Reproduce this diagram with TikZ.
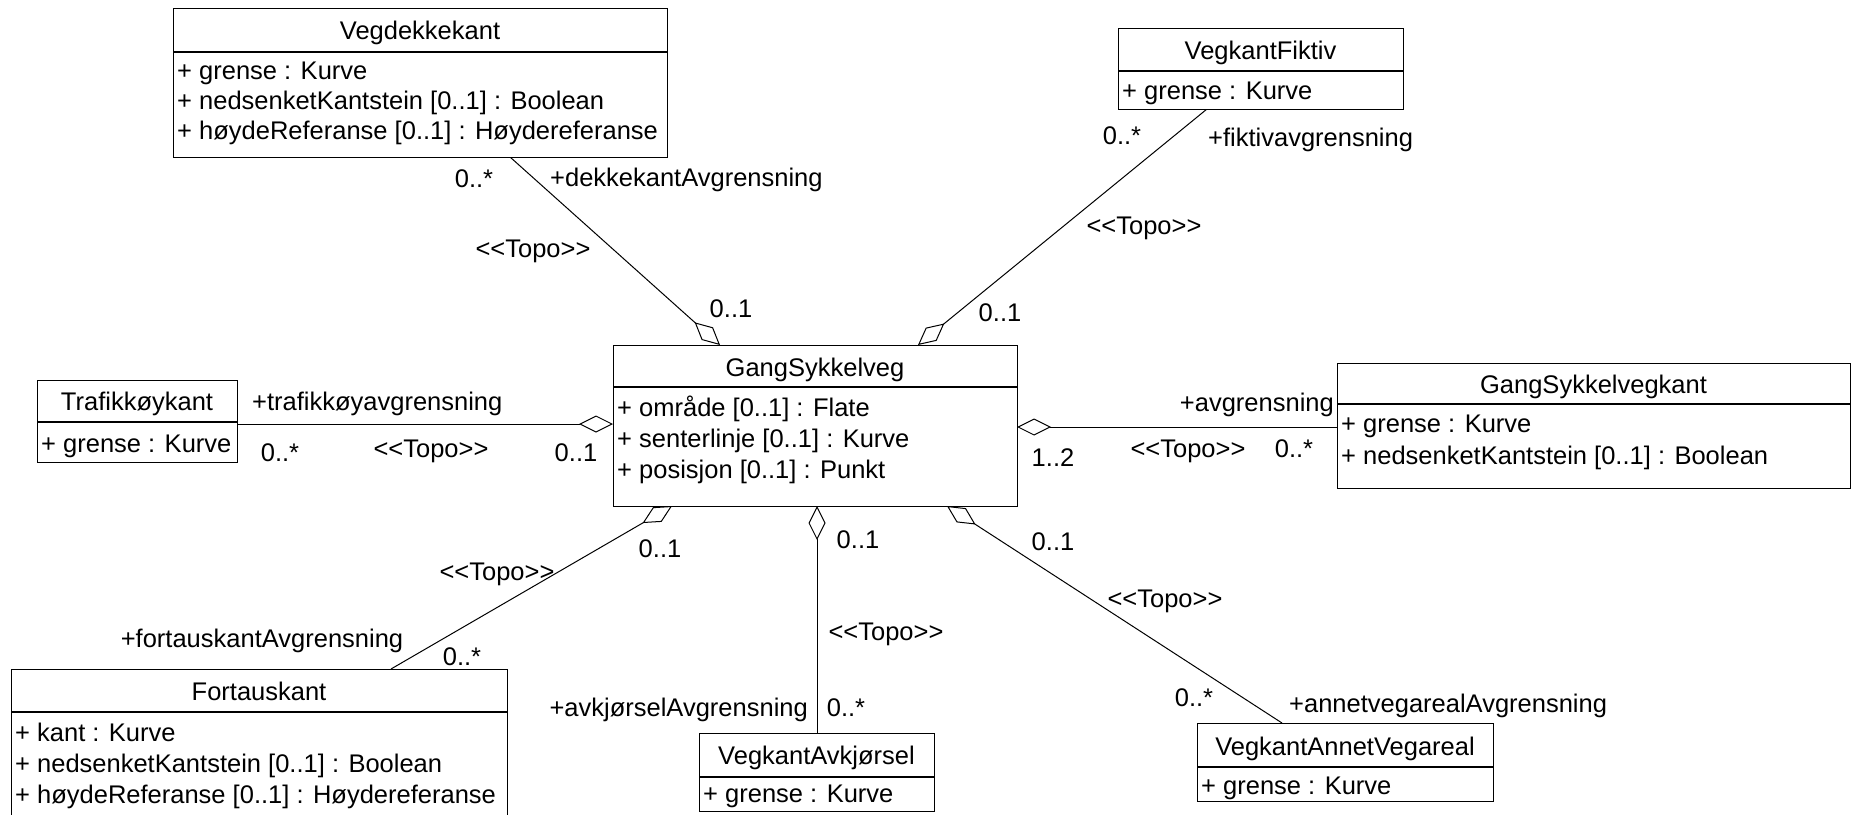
\documentclass[tikz,border=0pt]{standalone}
\usepackage{fontspec}
\setmainfont{Liberation Sans}[Ligatures=TeXOff]
\usetikzlibrary{arrows.meta}
\begin{document}
\begin{tikzpicture}[x=1pt,y=-1pt,
  cls/.style={draw, line width=1.2pt, fill=white, inner sep=0pt, anchor=north west},
  sepl/.style={line width=1.1pt},
  txt/.style={font=\fontsize{25.5pt}{31pt}\selectfont, inner sep=0pt, text height=18.4pt, text depth=5.4pt, yshift=-2.5pt},
  attr/.style={txt, anchor=west},
  assoc/.style={line width=1pt, -{Diamond[open, length=34pt, width=17pt]}}]
\useasboundingbox (0,0) rectangle (1852,814);
\clip (0,0) rectangle (1852,814);

% connector end points
\coordinate (vd-a) at (510,157);  \coordinate (gs-a) at (720,345);
\coordinate (vf-a) at (1207,109); \coordinate (gs-b) at (918,345);
\coordinate (tk-a) at (237,424);  \coordinate (gs-c) at (613,424);
\coordinate (gk-a) at (1337,427); \coordinate (gs-d) at (1017,427);
\coordinate (fk-a) at (391,669);  \coordinate (gs-e) at (672,506);
\coordinate (va-a) at (817,733);  \coordinate (gs-f) at (817,506);
\coordinate (vv-a) at (1282,723); \coordinate (gs-g) at (947,506);

% connectors
\draw[assoc] (vd-a) -- (gs-a);
\draw[assoc] (vf-a) -- (gs-b);
\draw[assoc] (tk-a) -- (gs-c);
\draw[assoc] (gk-a) -- (gs-d);
\draw[assoc] (fk-a) -- (gs-e);
\draw[assoc] (va-a) -- (gs-f);
\draw[assoc] (vv-a) -- (gs-g);

% Vegdekkekant
\node[cls, minimum width=494pt, minimum height=149pt] (vd) at (173,8) {};
\draw[sepl] ([yshift=-44pt]vd.north west) -- ([yshift=-44pt]vd.north east);
\node[txt] (vd-t) at (420,30) {Vegdekkekant};
\node[attr] (vd-1) at (177,70) {+ grense : Kurve};
\node[attr] (vd-2) at (177,100) {+ nedsenketKantstein [0..1] : Boolean};
\node[attr] (vd-3) at (177,130) {+ høydeReferanse [0..1] : Høydereferanse};

% VegkantFiktiv
\node[cls, minimum width=285pt, minimum height=81pt] (vf) at (1118,28) {};
\draw[sepl] ([yshift=-43pt]vf.north west) -- ([yshift=-43pt]vf.north east);
\node[txt] (vf-t) at (1260.5,50) {VegkantFiktiv};
\node[attr] (vf-1) at (1122,90) {+ grense : Kurve};

% Trafikkøykant
\node[cls, minimum width=200pt, minimum height=82pt] (tk) at (37,380) {};
\draw[sepl] ([yshift=-42pt]tk.north west) -- ([yshift=-42pt]tk.north east);
\node[txt] (tk-t) at (137,401) {Trafikkøykant};
\node[attr] (tk-1) at (41,443) {+ grense : Kurve};

% GangSykkelveg
\node[cls, minimum width=404pt, minimum height=161pt] (gs) at (613,345) {};
\draw[sepl] ([yshift=-42pt]gs.north west) -- ([yshift=-42pt]gs.north east);
\node[txt] (gs-t) at (815,367) {GangSykkelveg};
\node[attr] (gs-1) at (617,407) {+ område [0..1] : Flate};
\node[attr] (gs-2) at (617,438) {+ senterlinje [0..1] : Kurve};
\node[attr] (gs-3) at (617,469) {+ posisjon [0..1] : Punkt};

% GangSykkelvegkant
\node[cls, minimum width=513pt, minimum height=125pt] (gk) at (1337,363) {};
\draw[sepl] ([yshift=-41pt]gk.north west) -- ([yshift=-41pt]gk.north east);
\node[txt] (gk-t) at (1593.5,384) {GangSykkelvegkant};
\node[attr] (gk-1) at (1341,423) {+ grense : Kurve};
\node[attr] (gk-2) at (1341,455) {+ nedsenketKantstein [0..1] : Boolean};

% Fortauskant
\node[cls, minimum width=496pt, minimum height=170pt] (fk) at (11,669) {};
\draw[sepl] ([yshift=-43pt]fk.north west) -- ([yshift=-43pt]fk.north east);
\node[txt] (fk-t) at (259,691) {Fortauskant};
\node[attr] (fk-1) at (15,732) {+ kant : Kurve};
\node[attr] (fk-2) at (15,763) {+ nedsenketKantstein [0..1] : Boolean};
\node[attr] (fk-3) at (15,794) {+ høydeReferanse [0..1] : Høydereferanse};

% VegkantAvkjørsel
\node[cls, minimum width=235pt, minimum height=78pt] (va) at (699,733) {};
\draw[sepl] ([yshift=-44pt]va.north west) -- ([yshift=-44pt]va.north east);
\node[txt] (va-t) at (816.5,755) {VegkantAvkjørsel};
\node[attr] (va-1) at (703,793) {+ grense : Kurve};

% VegkantAnnetVegareal
\node[cls, minimum width=296pt, minimum height=78pt] (vv) at (1197,723) {};
\draw[sepl] ([yshift=-44pt]vv.north west) -- ([yshift=-44pt]vv.north east);
\node[txt] (vv-t) at (1345,746) {VegkantAnnetVegareal};
\node[attr] (vv-1) at (1201,785) {+ grense : Kurve};

% labels: Vegdekkekant
\node[txt] (l1a) at (474,178) {0..*};
\node[txt, anchor=west] (l1b) at (550,177) {+dekkekantAvgrensning};
\node[txt] (l1c) at (533,248) {<<Topo>>};
\node[txt] (l1d) at (731,308) {0..1};
% labels: VegkantFiktiv
\node[txt] (l2a) at (1122,135) {0..*};
\node[txt, anchor=west] (l2b) at (1208,137) {+fiktivavgrensning};
\node[txt] (l2c) at (1144,225) {<<Topo>>};
\node[txt] (l2d) at (1000,312) {0..1};
% labels: Trafikkøykant
\node[txt, anchor=west] (l3a) at (252,401) {+trafikkøyavgrensning};
\node[txt] (l3b) at (280,452) {0..*};
\node[txt] (l3c) at (431,448) {<<Topo>>};
\node[txt] (l3d) at (576,452) {0..1};
% labels: GangSykkelvegkant
\node[txt, anchor=east] (l4a) at (1334,402) {+avgrensning};
\node[txt] (l4b) at (1053,457) {1..2};
\node[txt] (l4c) at (1188,448) {<<Topo>>};
\node[txt] (l4d) at (1294,448) {0..*};
% labels: Fortauskant
\node[txt] (l5a) at (660,548) {0..1};
\node[txt] (l5b) at (497,571) {<<Topo>>};
\node[txt] (l5c) at (262,638) {+fortauskantAvgrensning};
\node[txt] (l5d) at (462,656) {0..*};
% labels: VegkantAvkjørsel
\node[txt] (l6a) at (858,539) {0..1};
\node[txt] (l6b) at (886,631) {<<Topo>>};
\node[txt, anchor=east] (l6c) at (808,707) {+avkjørselAvgrensning};
\node[txt] (l6d) at (846,707) {0..*};
% labels: VegkantAnnetVegareal
\node[txt] (l7a) at (1053,541) {0..1};
\node[txt] (l7b) at (1165,598) {<<Topo>>};
\node[txt] (l7c) at (1194,697) {0..*};
\node[txt, anchor=west] (l7d) at (1289,703) {+annetvegarealAvgrensning};
\end{tikzpicture}
\end{document}
